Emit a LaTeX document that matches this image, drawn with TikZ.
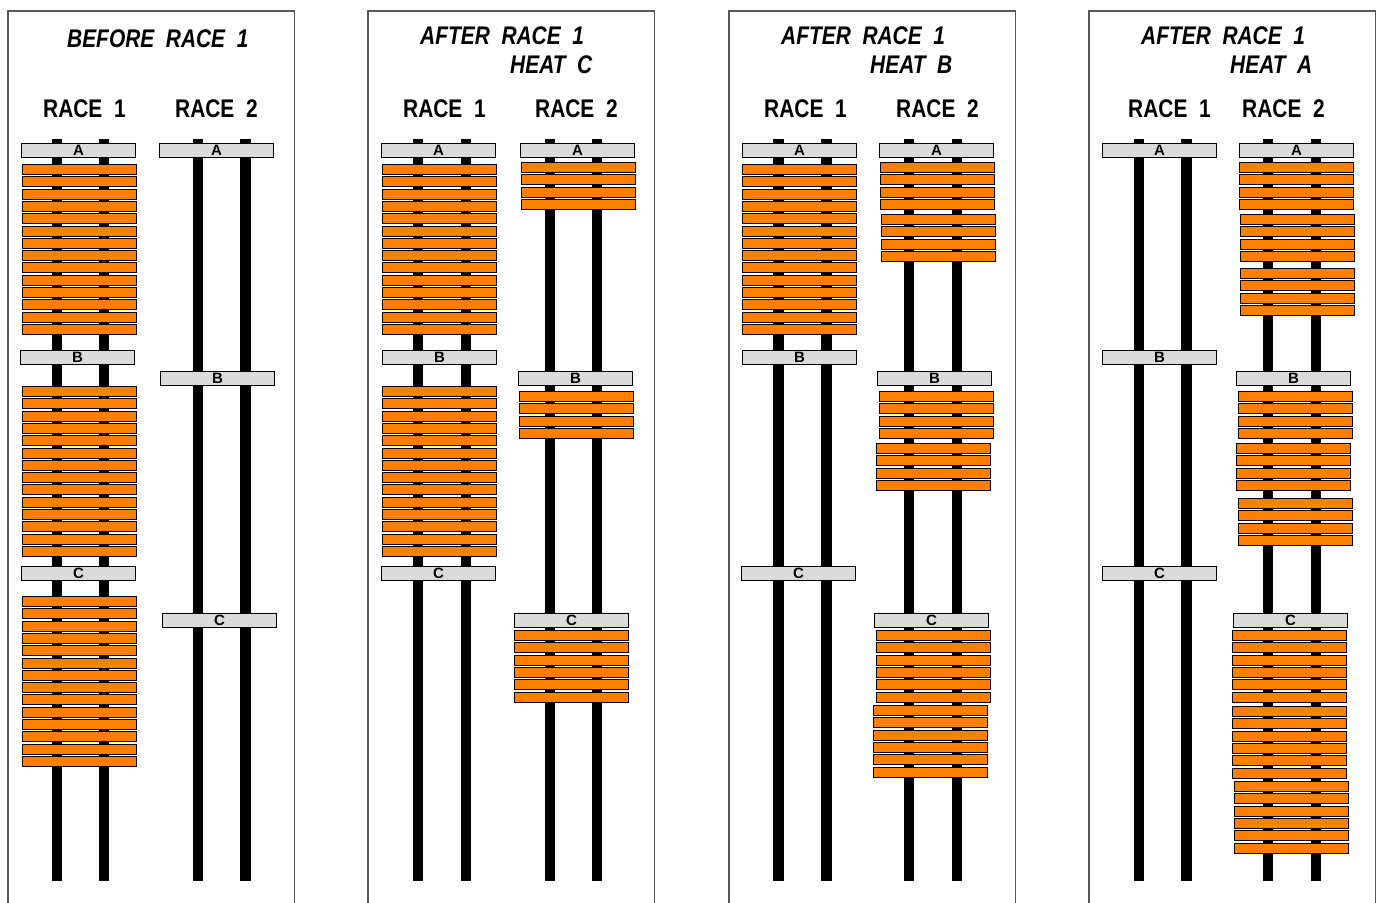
\documentclass[tikz,border=0pt]{standalone}
\usepackage{fontspec}
\setmainfont{Liberation Sans}
\newfontfamily\headfont[FakeStretch=0.82]{Liberation Sans}
\usetikzlibrary{positioning}
\definecolor{cardgray}{gray}{0.86}
\definecolor{carorange}{RGB}{255,128,0}
\definecolor{framegray}{gray}{0.35}

\begin{document}
\begin{tikzpicture}[
  x=1pt,y=-1pt,
  frame/.style={draw=framegray,line width=1.5pt},
  pole/.style={fill=black},
  card/.style={draw,line width=1.3pt,fill=cardgray,minimum width=113.7pt,minimum height=13.7pt,inner sep=0pt,anchor=north west,font=\bfseries\fontsize{15}{15}\selectfont},
  car/.style={draw,line width=1pt,fill=carorange,minimum width=114pt,minimum height=10pt,inner sep=0pt,anchor=north west},
  title/.style={anchor=base west,inner sep=0pt,font=\headfont\bfseries\itshape\fontsize{25.5}{26}\selectfont},
  head/.style={anchor=base west,inner sep=0pt,font=\headfont\bfseries\fontsize{25.5}{26}\selectfont}
]
\useasboundingbox (0,0) rectangle (1381,902);

% panels
\foreach \px in {8,368,729,1089}
  \draw[frame] (\px,903) -- (\px,11) -- (\px+286.5,11) -- (\px+286.5,903);

% titles
\node[title] (t1) at (67,47) {BEFORE\ \ RACE\ \ 1};
\node[title] (t2) at (420,44) {AFTER\ \ RACE\ \ 1};
\node[title] (t2h) at (510,73) {HEAT\ \ C};
\node[title] (t3) at (781,44) {AFTER\ \ RACE\ \ 1};
\node[title] (t3h) at (870,73) {HEAT\ \ B};
\node[title] (t4) at (1141,44) {AFTER\ \ RACE\ \ 1};
\node[title] (t4h) at (1230,73) {HEAT\ \ A};

% race headings
\foreach \n/\x/\r in {h1a/43/1,h1b/175/2,h2a/403/1,h2b/535/2,h3a/764/1,h3b/896/2,h4a/1128/1,h4b/1242/2}
  \node[head] (\n) at (\x,117) {RACE\ \ \r};

% poles
\foreach \x in {57,104,198,245.5,418,466,550,597,778.5,826.5,909,957,1139,1186.5,1268,1316}
  \fill[pole] (\x-5.25,139) rectangle (\x+5.25,881);

% heat cards
\foreach \n/\x/\y/\l in {p1r1A/21/143/A,p1r1B/20/350/B,p1r1C/21/566/C,
    p1r2A/159/143/A,p1r2B/160/371/B,p1r2C/162/613/C,
    p2r1A/381/143/A,p2r1B/382/350/B,p2r1C/381/566/C,
    p2r2A/520/143/A,p2r2B/518/371/B,p2r2C/514/613/C,
    p3r1A/742/143/A,p3r1B/742/350/B,p3r1C/741/566/C,
    p3r2A/879/143/A,p3r2B/877/371/B,p3r2C/874/613/C,
    p4r1A/1102/143/A,p4r1B/1102/350/B,p4r1C/1102/566/C,
    p4r2A/1239/143/A,p4r2B/1236/371/B,p4r2C/1233/613/C}
  \node[card] (\n) at (\x,\y) {\l};

% cars
\foreach \n/\x/\y/\k in {p1r1a/22/164/14,p1r1b/22/386/14,p1r1c/22/596/14,
    p2r1a/382/164/14,p2r1b/382/386/14,
    p2r2a/521/162/4,p2r2b/519/391/4,p2r2c/514/630/6,
    p3r1a/742/164/14,
    p3r2a/880/162/4,p3r2aa/881/214/4,p3r2b/879/391/4,p3r2bb/876/443/4,p3r2c/876/630/6,p3r2cc/873/705/6,
    p4r2a/1239/162/4,p4r2aa/1240/214/4,p4r2aaa/1240/268/4,
    p4r2b/1238/391/4,p4r2bb/1236/443/4,p4r2bbb/1238/498/4,
    p4r2c/1232/630/6,p4r2cc/1232/706/6,p4r2ccc/1234/781/6}
  \foreach \i in {1,...,\k}
    \node[car] (\n-\i) at (\x,{\y+12.3*(\i-1)}) {};
\end{tikzpicture}
\end{document}
